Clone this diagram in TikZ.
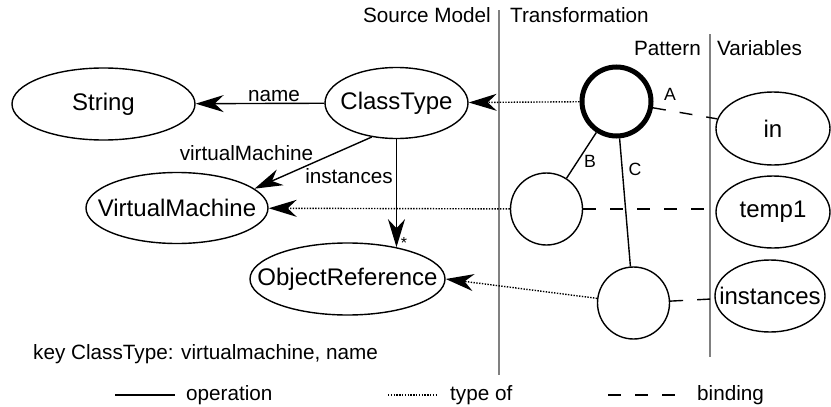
\documentclass[tikz,border=0pt]{standalone}
\usepackage{fontspec}
\setmainfont{Liberation Sans}
\usetikzlibrary{shapes.geometric,arrows.meta}
\tikzset{
  bigtext/.style={font=\fontsize{24}{28}\selectfont},
  smalltext/.style={font=\fontsize{20.7}{24}\selectfont},
  lettertext/.style={font=\fontsize{17.7}{20}\selectfont},
  el/.style={draw, ellipse, line width=1.4pt, inner sep=0pt},
  circ/.style={draw, circle, line width=1.4pt, inner sep=0pt, minimum size=72pt},
  thickcirc/.style={draw, circle, line width=5pt, inner sep=0pt, minimum size=69pt},
  op/.style={line width=1.4pt},
  typeof/.style={line width=1.4pt, dash pattern=on 1.4pt off 1.4pt},
  bind/.style={line width=1.4pt, dash pattern=on 13pt off 14pt},
  arr/.style={-{Stealth[length=28pt,width=17pt,inset=9pt]}},
  sep/.style={line width=1.5pt, draw=black!50},
  every label/.style={bigtext}
}
\begin{document}
\begin{tikzpicture}[x=1pt,y=-1pt]
\useasboundingbox (0,0) rectangle (831,407);

% separators
\coordinate (s1t) at (499,10);  \coordinate (s1b) at (499,375);
\coordinate (s2t) at (710,34);  \coordinate (s2b) at (710,357);
\draw[sep] (s1t) -- (s1b);
\draw[sep] (s2t) -- (s2b);

% headers
\node[smalltext, anchor=base east, inner sep=0pt] (hsm) at (491,22) {Source Model};
\node[smalltext, anchor=base west, inner sep=0pt] (htr) at (510,22) {Transformation};
\node[smalltext, anchor=base east, inner sep=0pt] (hpa) at (701,55) {Pattern};
\node[smalltext, anchor=base west, inner sep=0pt] (hva) at (717,55) {Variables};

% source model
\node[el, minimum width=183pt, minimum height=72pt, label=center:String] (str) at (103.5,104) {};
\node[el, minimum width=143pt, minimum height=71pt, label=center:ClassType] (ct) at (396.5,103) {};
\node[el, minimum width=182pt, minimum height=71pt, label=center:VirtualMachine] (vm) at (177,208) {};
\node[el, minimum width=195pt, minimum height=72pt, label=center:ObjectReference] (or) at (347.5,279) {};

% variables
\node[el, minimum width=114pt, minimum height=73pt, label=center:in] (vin) at (773,128.5) {};
\node[el, minimum width=114pt, minimum height=72pt, label=center:temp1] (vtemp) at (773,212) {};
\node[el, minimum width=110pt, minimum height=72pt, label=center:instances] (vinst) at (770,296) {};

% pattern
\node[thickcirc] (pa) at (616.5,101.5) {};
\node[circ] (pb) at (546.5,209) {};
\node[circ] (pc) at (633.5,303) {};

% operations in source model
\draw[op,arr] (ct) -- (str);
\draw[op,arr] (ct.234) -- (vm.14);
\draw[op,arr] (or.33 |- ct.south) -- (or.33);
\node[smalltext, anchor=base, inner sep=0pt] (lname) at (274,101) {name};
\node[smalltext, anchor=base, inner sep=0pt] (lvm) at (246.5,160) {virtualMachine};
\node[smalltext, anchor=base, inner sep=0pt] (linst) at (349,183) {instances};
\node[font=\fontsize{16}{18}\selectfont, anchor=base, inner sep=0pt] (lstar) at (404,248) {*};

% pattern edges
\draw[op] (pa) -- (pb);
\draw[op] (pa) -- (pc);
\node[lettertext, anchor=base, inner sep=0pt] (la) at (670,100) {A};
\node[lettertext, anchor=base, inner sep=0pt] (lb) at (590,167) {B};
\node[lettertext, anchor=base, inner sep=0pt] (lc) at (635,175) {C};

% bindings
\draw[bind] (pa) -- (vin);
\draw[bind] (pb.east) -- (pb.east -| vtemp.west);
\draw[bind] (pc) -- (vinst);

% type of
\draw[typeof,arr] (pa) -- (ct);
\draw[typeof,arr] (pb) -- (vm);
\draw[typeof,arr] (pc) -- (or.east);

% key
\node[smalltext, anchor=base west, inner sep=0pt] (key) at (33,359) {key ClassType: virtualmachine, name};

% legend
\coordinate (l1a) at (115,395); \coordinate (l1b) at (175,395);
\coordinate (l2a) at (388,395); \coordinate (l2b) at (437,395);
\coordinate (l3a) at (608,395); \coordinate (l3b) at (677,395);
\draw[op] (l1a) -- (l1b);
\draw[typeof] (l2a) -- (l2b);
\draw[bind] (l3a) -- (l3b);
\node[smalltext, anchor=base west, inner sep=0pt] (lop) at (186,400) {operation};
\node[smalltext, anchor=base west, inner sep=0pt] (lty) at (450,400) {type of};
\node[smalltext, anchor=base west, inner sep=0pt] (lbi) at (697,400) {binding};
\end{tikzpicture}
\end{document}
